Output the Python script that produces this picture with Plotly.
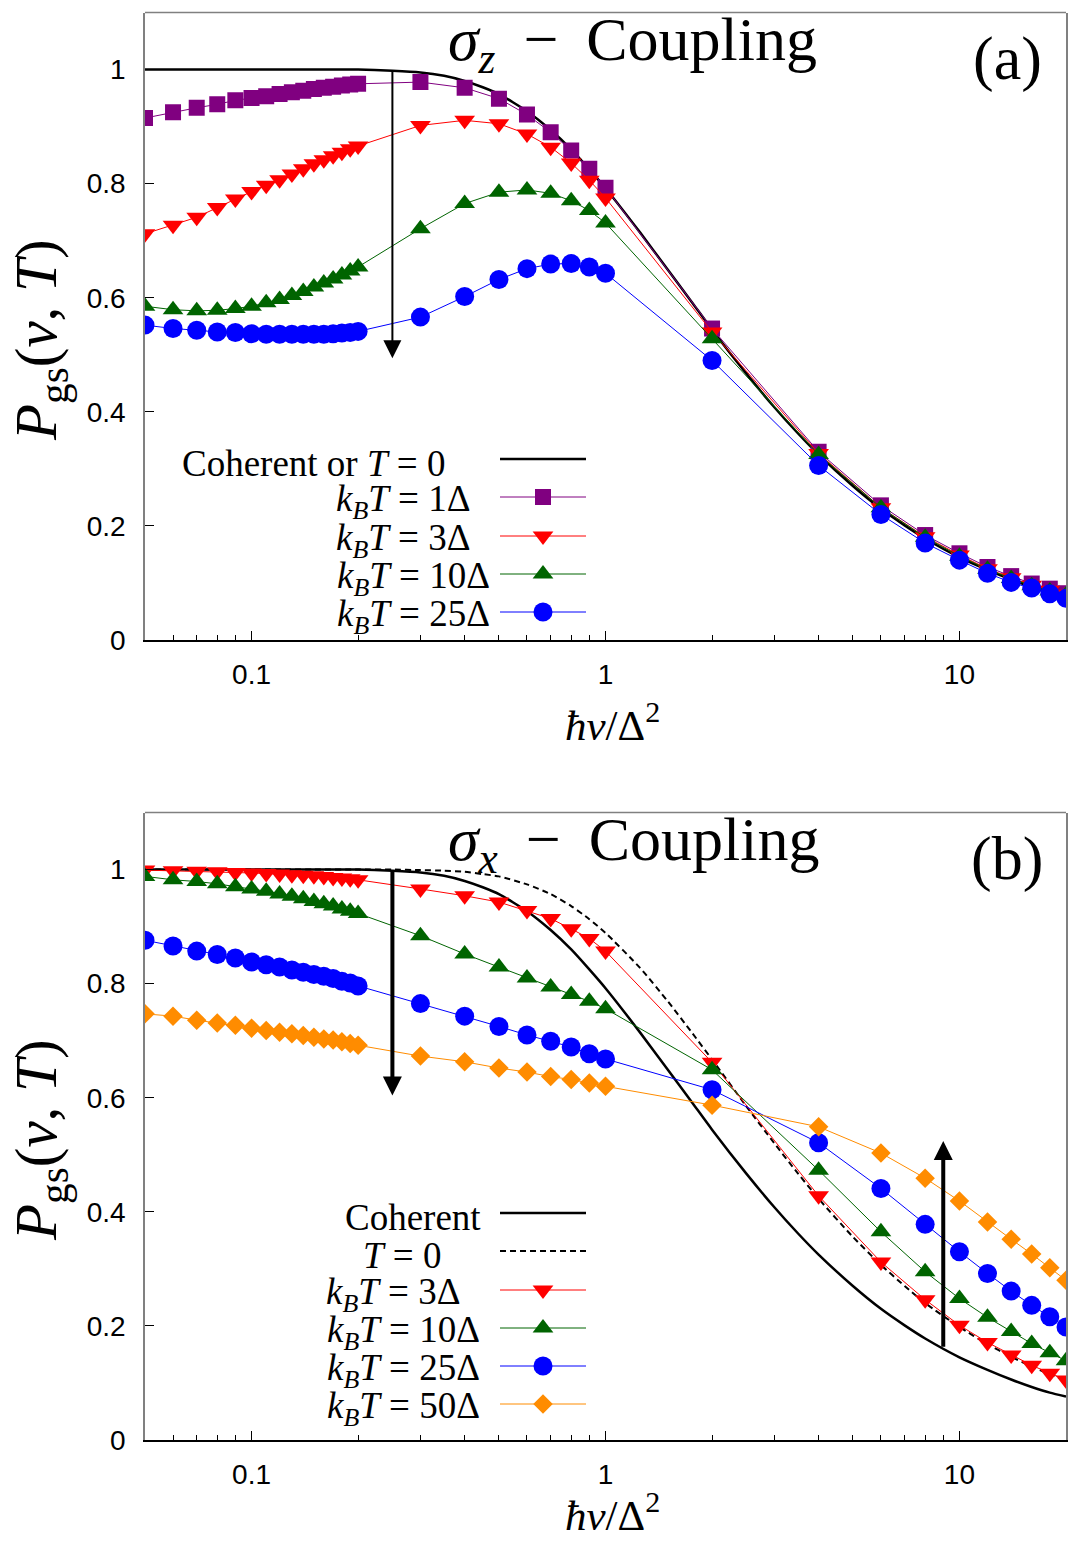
import math
import plotly.graph_objects as go

# ---------------- data ----------------
x_pts = [0.05, 0.06, 0.07, 0.08, 0.09, 0.10, 0.11, 0.12, 0.13, 0.14, 0.15, 0.16, 0.17, 0.18, 0.19, 0.20,
         0.3, 0.4, 0.5, 0.6, 0.7, 0.8, 0.9, 1.0,
         2, 4, 6, 8, 10, 12, 14, 16, 18, 20]

# panel (a): sigma_z coupling
a_T1 = [0.915, 0.925, 0.933, 0.939, 0.946, 0.950, 0.953, 0.957, 0.960, 0.963, 0.966, 0.968, 0.970, 0.972, 0.974, 0.975,
        0.978, 0.968, 0.949, 0.921, 0.890, 0.858, 0.826, 0.793,
        0.546, 0.330, 0.236, 0.184, 0.152, 0.128, 0.112, 0.099, 0.090, 0.082]
a_T3 = [0.712, 0.727, 0.741, 0.758, 0.773, 0.786, 0.797, 0.807, 0.817, 0.826, 0.835, 0.842, 0.849, 0.855, 0.861, 0.866,
        0.902, 0.911, 0.905, 0.887, 0.864, 0.836, 0.806, 0.775,
        0.540, 0.327, 0.232, 0.181, 0.149, 0.125, 0.109, 0.096, 0.087, 0.080]
a_T10 = [0.585, 0.579, 0.577, 0.578, 0.581, 0.585, 0.591, 0.597, 0.604, 0.611, 0.619, 0.626, 0.633, 0.640, 0.647, 0.654,
         0.721, 0.765, 0.785, 0.789, 0.783, 0.770, 0.753, 0.731,
         0.528, 0.325, 0.232, 0.180, 0.147, 0.124, 0.108, 0.095, 0.086, 0.079]
a_T25 = [0.552, 0.546, 0.543, 0.540, 0.539, 0.537, 0.536, 0.536, 0.536, 0.536, 0.536, 0.536, 0.537, 0.538, 0.539, 0.541,
         0.566, 0.602, 0.632, 0.651, 0.659, 0.660, 0.654, 0.643,
         0.490, 0.306, 0.220, 0.170, 0.140, 0.117, 0.101, 0.091, 0.081, 0.073]

# panel (b): sigma_x coupling
b_T3 = [0.999, 0.998, 0.997, 0.996, 0.995, 0.994, 0.993, 0.992, 0.991, 0.990, 0.989, 0.988, 0.986, 0.985, 0.984, 0.982,
        0.966, 0.954, 0.943, 0.928, 0.914, 0.896, 0.879, 0.857,
        0.662, 0.428, 0.312, 0.246, 0.201, 0.171, 0.149, 0.131, 0.117, 0.105]
b_T10 = [0.988, 0.982, 0.979, 0.975, 0.970, 0.966, 0.962, 0.957, 0.953, 0.949, 0.944, 0.940, 0.936, 0.931, 0.927, 0.923,
         0.884, 0.852, 0.829, 0.810, 0.794, 0.781, 0.769, 0.756,
         0.649, 0.473, 0.365, 0.295, 0.248, 0.215, 0.190, 0.169, 0.153, 0.139]
b_T25 = [0.876, 0.866, 0.857, 0.851, 0.845, 0.838, 0.833, 0.829, 0.824, 0.820, 0.816, 0.813, 0.809, 0.804, 0.801, 0.796,
         0.765, 0.743, 0.725, 0.710, 0.699, 0.689, 0.677, 0.668,
         0.614, 0.521, 0.441, 0.378, 0.330, 0.292, 0.261, 0.236, 0.216, 0.198]
b_T50 = [0.747, 0.743, 0.736, 0.731, 0.727, 0.722, 0.718, 0.715, 0.712, 0.709, 0.706, 0.703, 0.701, 0.698, 0.695, 0.692,
         0.673, 0.663, 0.652, 0.645, 0.637, 0.632, 0.626, 0.620,
         0.587, 0.549, 0.503, 0.459, 0.419, 0.382, 0.352, 0.326, 0.302, 0.280]

# continuous curves
curve_x = [0.05, 0.1, 0.15, 0.2, 0.25, 0.3, 0.35, 0.4, 0.45, 0.5, 0.6, 0.7, 0.8, 0.9, 1.0,
           1.25, 1.5, 1.75, 2.0, 2.5, 3.0, 3.5, 4.0, 5.0, 6.0, 7.0, 8.0, 10, 12, 14, 16, 18, 20]
coherent = [1.000, 1.000, 1.000, 1.000, 0.998, 0.995, 0.989, 0.980, 0.969, 0.957, 0.927, 0.894, 0.860, 0.825, 0.792,
            0.715, 0.649, 0.593, 0.544, 0.467, 0.408, 0.362, 0.325, 0.270, 0.230, 0.201, 0.178, 0.145, 0.123,
            0.106, 0.093, 0.083, 0.076]
t_zero_b = [1.000, 1.000, 1.000, 1.000, 1.000, 0.999, 0.998, 0.996, 0.992, 0.988, 0.974, 0.957, 0.936, 0.913, 0.889,
            0.828, 0.769, 0.715, 0.667, 0.585, 0.520, 0.467, 0.423, 0.356, 0.307, 0.270, 0.240, 0.198, 0.168,
            0.146, 0.129, 0.115, 0.104]

y_ticks = [0, 0.2, 0.4, 0.6, 0.8, 1.0]
y_ticklabels = ["0", "0.2", "0.4", "0.6", "0.8", "1"]
x_major = [0.1, 1, 10]
x_major_labels = ["0.1", "1", "10"]
x_minor = [0.05, 0.06, 0.07, 0.08, 0.09, 0.2, 0.3, 0.4, 0.5, 0.6, 0.7, 0.8, 0.9,
           2, 3, 4, 5, 6, 7, 8, 9, 20]

# ---------------- styling ----------------
W, H = 1083, 1546
SERIF = "Liberation Serif"
SANS = "Liberation Sans"
PURPLE, RED, GREEN, BLUE, ORANGE = "#800080", "#ff0000", "#006400", "#0000ff", "#ff8c00"
SIZES = {"square": 16, "triangle-down": 18, "triangle-up": 18, "circle": 19, "diamond": 15}

def px(x):
    return x / W

def py(y):
    return 1 - y / H

fig = go.Figure()

def add_series(xs, ys, color, symbol, xa, ya):
    fig.add_trace(go.Scatter(x=xs, y=ys, mode="lines+markers", xaxis=xa, yaxis=ya,
                             line=dict(color=color, width=1),
                             marker=dict(symbol=symbol, size=SIZES[symbol], color=color, line=dict(width=0)),
                             showlegend=False, hoverinfo="skip"))

# panel (a)
fig.add_trace(go.Scatter(x=curve_x, y=coherent, mode="lines", xaxis="x", yaxis="y",
                         line=dict(color="black", width=2.5, shape="spline", smoothing=0.6),
                         showlegend=False, hoverinfo="skip"))
add_series(x_pts, a_T1, PURPLE, "square", "x", "y")
add_series(x_pts, a_T3, RED, "triangle-down", "x", "y")
add_series(x_pts, a_T10, GREEN, "triangle-up", "x", "y")
add_series(x_pts, a_T25, BLUE, "circle", "x", "y")

# panel (b)
fig.add_trace(go.Scatter(x=curve_x, y=coherent, mode="lines", xaxis="x2", yaxis="y2",
                         line=dict(color="black", width=2.5, shape="spline", smoothing=0.6),
                         showlegend=False, hoverinfo="skip"))
fig.add_trace(go.Scatter(x=curve_x, y=t_zero_b, mode="lines", xaxis="x2", yaxis="y2",
                         line=dict(color="black", width=2, dash="6px,4px", shape="spline", smoothing=0.6),
                         showlegend=False, hoverinfo="skip"))
add_series(x_pts, b_T3, RED, "triangle-down", "x2", "y2")
add_series(x_pts, b_T10, GREEN, "triangle-up", "x2", "y2")
add_series(x_pts, b_T25, BLUE, "circle", "x2", "y2")
add_series(x_pts, b_T50, ORANGE, "diamond", "x2", "y2")

# ---------------- custom legends (symbol to the right of the text) ----------------
legend_a = [
    ("Coherent or <i>T</i> = 0", 447, 459, "black", None, 2.5),
    ("<i>k<sub>B</sub>T</i> = 1Δ", 473, 497, PURPLE, "square", 1),
    ("<i>k<sub>B</sub>T</i> = 3Δ", 473, 536, RED, "triangle-down", 1),
    ("<i>k<sub>B</sub>T</i> = 10Δ", 492, 574, GREEN, "triangle-up", 1),
    ("<i>k<sub>B</sub>T</i> = 25Δ", 492, 612, BLUE, "circle", 1),
]
legend_b = [
    ("Coherent", 483, 1213, "black", None, 2.5),
    ("<i>T</i> = 0", 443, 1251, "black", "DASH", 2),
    ("<i>k<sub>B</sub>T</i> = 3Δ", 463, 1290, RED, "triangle-down", 1),
    ("<i>k<sub>B</sub>T</i> = 10Δ", 482, 1328, GREEN, "triangle-up", 1),
    ("<i>k<sub>B</sub>T</i> = 25Δ", 482, 1366, BLUE, "circle", 1),
    ("<i>k<sub>B</sub>T</i> = 50Δ", 482, 1404, ORANGE, "diamond", 1),
]

annotations = []
shapes = []
for entries in (legend_a, legend_b):
    for text, xr, yc, color, sym, lw in entries:
        annotations.append(dict(text=text, xref="paper", yref="paper", x=px(xr), y=py(yc + 4),
                                xanchor="right", yanchor="middle", showarrow=False,
                                font=dict(family=SERIF, size=37, color="black")))
        fig.add_trace(go.Scatter(x=[500, 586], y=[yc, yc], mode="lines", xaxis="x3", yaxis="y3",
                                 line=dict(color=color, width=lw, dash="6px,4px" if sym == "DASH" else "solid"),
                                 showlegend=False, hoverinfo="skip"))
        if sym and sym != "DASH":
            fig.add_trace(go.Scatter(x=[543], y=[yc], mode="markers", xaxis="x3", yaxis="y3",
                                     marker=dict(symbol=sym, size=SIZES[sym], color=color, line=dict(width=0)),
                                     showlegend=False, hoverinfo="skip"))

# titles / labels
for (ttl, lab, ytop, ybot, xlab_y) in (("<i>σ</i><sub><i>z</i></sub> \u2009−\u2009 Coupling", "(a)", 12.5, 640, 722),
                                        ("<i>σ</i><sub><i>x</i></sub> \u2009−\u2009 Coupling", "(b)", 812.5, 1440, 1512)):
    annotations.append(dict(text=ttl, xref="paper", yref="paper", x=px(446), y=py(ytop + 31),
                            xanchor="left", yanchor="middle", showarrow=False,
                            font=dict(family=SERIF, size=62, color="black")))
    annotations.append(dict(text=lab, xref="paper", yref="paper", x=px(1007), y=py(ytop + 46),
                            xanchor="center", yanchor="middle", showarrow=False,
                            font=dict(family=SERIF, size=62, color="black")))
    annotations.append(dict(text="<i>P</i><sub>gs</sub>(<i>v</i>, <i>T</i>)", xref="paper", yref="paper",
                            x=px(40), y=py(ybot - 300), xanchor="center", yanchor="middle",
                            textangle=-90, showarrow=False,
                            font=dict(family=SERIF, size=59, color="black")))
    annotations.append(dict(text="<i>ħv</i>/Δ<sup>2</sup>", xref="paper", yref="paper",
                            x=px(612), y=py(xlab_y), xanchor="center", yanchor="middle", showarrow=False,
                            font=dict(family=SERIF, size=43, color="black")))
    # gray top border line
    shapes.append(dict(type="line", xref="paper", yref="paper", x0=px(145), x1=px(1066),
                       y0=py(ytop), y1=py(ytop), line=dict(color="#808080", width=1.5)))

# arrows (annotation positions on log axes are in log10 units)
annotations.append(dict(x=math.log10(0.25), y=0.494, ax=math.log10(0.25), ay=1.0, xref="x", yref="y",
                        axref="x", ayref="y", text="", showarrow=True, arrowhead=2, arrowsize=1.8,
                        arrowwidth=2, arrowcolor="black"))
annotations.append(dict(x=math.log10(0.25), y=0.604, ax=math.log10(0.25), ay=1.0, xref="x2", yref="y2",
                        axref="x2", ayref="y2", text="", showarrow=True, arrowhead=2, arrowsize=0.95,
                        arrowwidth=4, arrowcolor="black"))
annotations.append(dict(x=math.log10(9.0), y=0.524, ax=math.log10(9.0), ay=0.161, xref="x2", yref="y2",
                        axref="x2", ayref="y2", text="", showarrow=True, arrowhead=2, arrowsize=0.95,
                        arrowwidth=4, arrowcolor="black"))

xaxis_common = dict(type="log", range=[math.log10(0.05), math.log10(20)], domain=[px(145), px(1066)],
                    showgrid=False, zeroline=False, showline=True, linecolor="black", linewidth=2,
                    mirror=False, ticks="inside", ticklen=9, tickwidth=1, tickcolor="black",
                    tickvals=x_major, ticktext=x_major_labels, ticklabelstandoff=8,
                    tickfont=dict(family=SANS, size=28, color="black"),
                    minor=dict(tickvals=x_minor, ticks="inside", ticklen=5, tickwidth=1, tickcolor="black",
                               showgrid=False),
                    automargin=False)
yaxis_common = dict(range=[0, 1.1], showgrid=False, zeroline=False, showline=True, linecolor="#808080",
                    linewidth=1.5, mirror=True, ticks="inside", ticklen=9, tickwidth=1, tickcolor="black",
                    tickvals=y_ticks, ticktext=y_ticklabels, ticklabelstandoff=12,
                    tickfont=dict(family=SANS, size=28, color="black"), automargin=False)

fig.update_layout(
    width=W, height=H, margin=dict(l=0, r=0, t=0, b=0),
    paper_bgcolor="white", plot_bgcolor="rgba(0,0,0,0)",
    xaxis=dict(anchor="y", **xaxis_common),
    yaxis=dict(anchor="x", domain=[py(640), py(12.5)], **yaxis_common),
    xaxis2=dict(anchor="y2", **xaxis_common),
    yaxis2=dict(anchor="x2", domain=[py(1440), py(812.5)], **yaxis_common),
    xaxis3=dict(anchor="y3", domain=[0, 1], range=[0, W], visible=False, fixedrange=True),
    yaxis3=dict(anchor="x3", domain=[0, 1], range=[H, 0], visible=False, fixedrange=True),
    annotations=annotations, shapes=shapes, showlegend=False,
)

fig.write_html("out.html")
